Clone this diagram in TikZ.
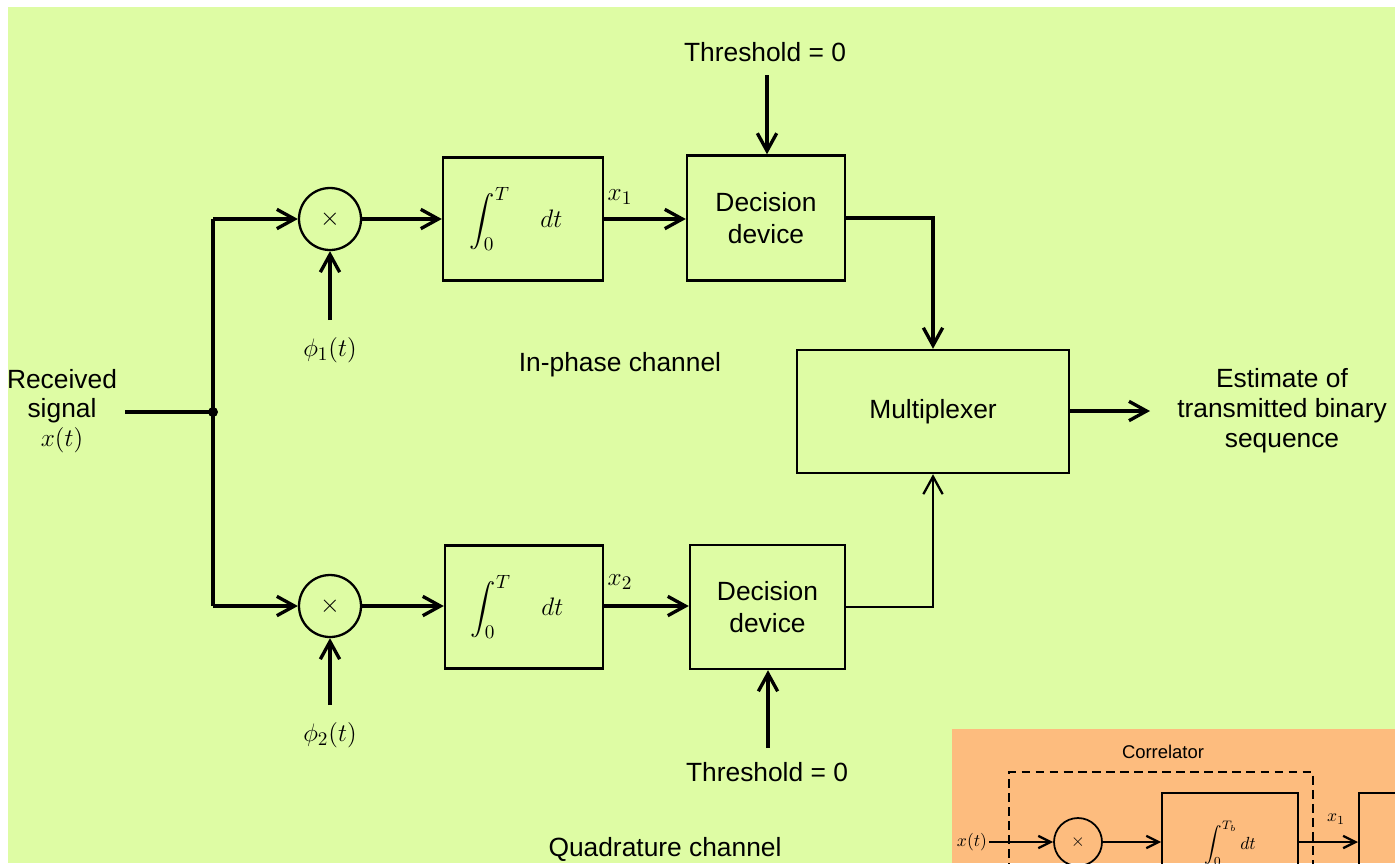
\documentclass[tikz,border=0pt]{standalone}
\usepackage{exscale}
\usepackage{fontspec}
\setsansfont{Liberation Sans}
\usetikzlibrary{arrows.meta,calc}
\definecolor{bggreen}{RGB}{222,252,164}
\definecolor{bgorange}{RGB}{253,188,126}
\begin{document}
\begin{tikzpicture}[x=0.02cm,y=-0.02cm,
  lbl/.style={font=\sffamily\fontsize{15}{17}\selectfont, align=center, inner sep=1pt},
  mth/.style={font=\fontsize{15}{17}\selectfont, inner sep=1pt},
  blk/.style={draw, line width=1.4pt, inner sep=0pt, align=center,
     font=\sffamily\fontsize{15}{18}\selectfont},
  mult/.style={draw, circle, line width=1.3pt, minimum size=1.24cm, inner sep=0pt,
     font=\fontsize{15}{17}\selectfont},
  arr/.style={line width=1.9pt, -{Straight Barb[length=10pt,width=11pt]}},
  wire/.style={line width=1.9pt},
  sarr/.style={line width=1.3pt, -{Straight Barb[length=7pt,width=7pt]}},
  sblk/.style={draw, line width=1pt, inner sep=0pt, font=\fontsize{10}{12}\selectfont}
]
\useasboundingbox (0,0) rectangle (1395,863);
\fill[bggreen] (8,7) rectangle (1395,863);

% input
\node[lbl, font=\sffamily\fontsize{15}{16.5}\selectfont] (rx) at (62,411) {Received\\signal\\\rmfamily$x(t)$};
\coordinate (b) at (213,412);
\coordinate (b1) at (213,219);
\coordinate (b2) at (213,606);
\draw[wire] (125,412) coordinate (rxe) -- (b);
\fill (b) circle (5);
\draw[wire] (b1) -- (b2);

% in-phase branch
\node[mult] (m1) at (330,219) {$\times$};
\node[blk, minimum width=3.2cm, minimum height=2.46cm] (i1) at (523,219) {$\displaystyle\int_0^{T}\quad dt$\hspace*{8pt}};
\node[blk, minimum width=3.16cm, minimum height=2.5cm] (d1) at (766,218) {Decision\\device};
\node[lbl] (th1) at (765,52) {Threshold = 0};
\node[mth] (phi1) at (330,350) {$\phi_1(t)$};
\coordinate (p1) at (330,320);
\coordinate (t1) at (767,75);
\node[mth] (x1) at (620,197) {$x_1$};
\node[lbl] (ip) at (620,365) {In-phase channel};

\draw[arr] (b1) -- (m1);
\draw[arr] (m1) -- (m1 -| i1.west);
\draw[arr] (i1.east |- m1) -- (m1 -| d1.west);
\draw[arr] (p1) -- (m1.south);
\draw[arr] (t1) -- (t1 |- d1.north);

% quadrature branch
\node[mult] (m2) at (330,606) {$\times$};
\node[blk, minimum width=3.16cm, minimum height=2.46cm] (i2) at (524,607) {$\displaystyle\int_0^{T}\quad dt$\hspace*{8pt}};
\node[blk, minimum width=3.1cm, minimum height=2.48cm] (d2) at (767.5,607) {Decision\\device};
\node[lbl] (th2) at (767,772) {Threshold = 0};
\node[mth] (phi2) at (330,735) {$\phi_2(t)$};
\coordinate (p2) at (330,705);
\coordinate (t2) at (768,748);
\node[mth] (x2) at (620,582) {$x_2$};
\node[lbl] (qc) at (665,849) {Quadrature channel};

\draw[arr] (b2) -- (m2);
\draw[arr] (m2) -- (m2 -| i2.west);
\draw[arr] (i2.east |- m2) -- (m2 -| d2.west);
\draw[arr] (p2) -- (m2.south);
\draw[arr] (t2) -- (t2 |- d2.south);

% multiplexer
\node[blk, minimum width=5.44cm, minimum height=2.46cm] (mux) at (933,411.5) {Multiplexer};
\draw[arr] (d1.east) -| (mux.north);
\draw[arr, line width=1.3pt] (d2.east) -| (mux.south);
\node[lbl, font=\sffamily\fontsize{15}{17}\selectfont] (est) at (1282,411) {Estimate of\\transmitted binary\\sequence};
\coordinate (mo) at (1150,411);
\draw[arr] (mux.east |- mo) -- (mo);

% inset
\begin{scope}
\clip (952,729) rectangle (1395,863);
\fill[bgorange] (952,729) rectangle (1395,863);
\node[font=\sffamily\fontsize{10.5}{12}\selectfont] (corr) at (1163,752) {Correlator};
\draw[line width=1pt, dash pattern=on 5pt off 3pt] (1009,900) -- (1009,772) -- (1313,772) -- (1313,900);
\node[mult, minimum size=0.96cm, line width=1pt, font=\fontsize{10}{12}\selectfont] (cm) at (1078,842) {$\times$};
\node[sblk, minimum width=2.72cm, minimum height=2cm] (ci) at (1230,843) {$\displaystyle\int_0^{T_b}dt$};
\node[sblk, anchor=north west, minimum width=2cm, minimum height=2cm] (cd) at (1358,792) {};
\node[font=\fontsize{10}{12}\selectfont, inner sep=1pt] (cx) at (972,842) {$x(t)$};
\node[font=\fontsize{10}{12}\selectfont, inner sep=1pt] (cx1) at (1336,819) {$x_1$};
\draw[sarr] (cx) -- (cm);
\draw[sarr] (cm) -- (cm -| ci.west);
\draw[sarr] (ci.east |- cm) -- (cm -| cd.west);
\end{scope}
\end{tikzpicture}
\end{document}
